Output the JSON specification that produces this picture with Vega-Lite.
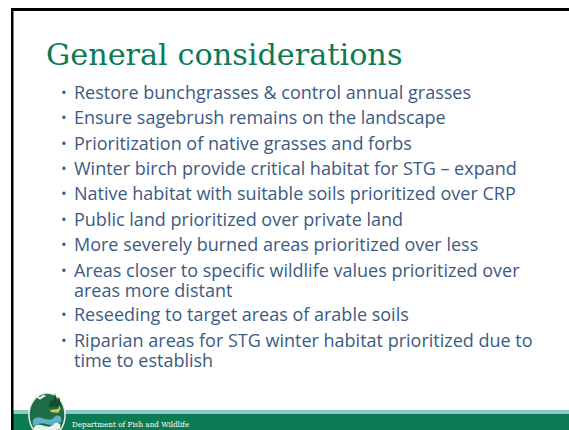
{
  "$schema": "https://vega.github.io/schema/vega-lite/v6.json",
  "width": 569,
  "height": 430,
  "padding": 0,
  "autosize": {"type": "none"},
  "background": "white",
  "config": {"view": {"stroke": null}},
  "datasets": {
    "slide": [
      {"kind": "title", "line": 0, "text": "General considerations", "bullet": false},
      {"kind": "body", "line": 1, "text": "Restore bunchgrasses & control annual grasses", "bullet": true},
      {"kind": "body", "line": 2, "text": "Ensure sagebrush remains on the landscape", "bullet": true},
      {"kind": "body", "line": 3, "text": "Prioritization of native grasses and forbs", "bullet": true},
      {"kind": "body", "line": 4, "text": "Winter birch provide critical habitat for STG – expand", "bullet": true},
      {"kind": "body", "line": 5, "text": "Native habitat with suitable soils prioritized over CRP", "bullet": true},
      {"kind": "body", "line": 6, "text": "Public land prioritized over private land", "bullet": true},
      {"kind": "body", "line": 7, "text": "More severely burned areas prioritized over less", "bullet": true},
      {"kind": "body", "line": 8, "text": "Areas closer to specific wildlife values prioritized over", "bullet": true},
      {"kind": "body", "line": 9, "text": "areas more distant", "bullet": false},
      {"kind": "body", "line": 10, "text": "Reseeding to target areas of arable soils", "bullet": true},
      {"kind": "body", "line": 11, "text": "Riparian areas for STG winter habitat prioritized due to", "bullet": true},
      {"kind": "body", "line": 12, "text": "time to establish", "bullet": false},
      {"kind": "footer", "line": 13, "text": "Department of Fish and Wildlife", "bullet": false}
    ]
  },
  "resolve": {"scale": {"y": "independent"}},
  "layer": [
    {
      "data": {"values": [{}]},
      "layer": [
        {
          "mark": {"type": "rect", "color": "#8ec9c8"},
          "encoding": {
            "x": {"datum": 13, "type": "quantitative", "scale": {"domain": [0, 569], "nice": false, "zero": false}, "axis": null},
            "x2": {"datum": 569},
            "y": {"datum": 410, "type": "quantitative", "scale": {"domain": [0, 430], "range": [0, 430], "nice": false, "zero": false}, "axis": null},
            "y2": {"datum": 414}
          }
        },
        {
          "mark": {"type": "rect", "color": "#0b7b54"},
          "encoding": {
            "x": {"datum": 13, "type": "quantitative"},
            "x2": {"datum": 569},
            "y": {"datum": 414, "type": "quantitative"},
            "y2": {"datum": 430}
          }
        },
        {
          "mark": {"type": "rect", "color": "#000000"},
          "encoding": {
            "x": {"datum": 11, "type": "quantitative"},
            "x2": {"datum": 569},
            "y": {"datum": 8, "type": "quantitative"},
            "y2": {"datum": 11}
          }
        },
        {
          "mark": {"type": "rect", "color": "#000000"},
          "encoding": {
            "x": {"datum": 11, "type": "quantitative"},
            "x2": {"datum": 13.5},
            "y": {"datum": 8, "type": "quantitative"},
            "y2": {"datum": 430}
          }
        },
        {
          "mark": {"type": "point", "shape": "M0,-1 A0.82,1 0 1,1 0,1 A0.82,1 0 1,1 0,-1 Z", "filled": true, "color": "#1d6e47", "stroke": "#e8efe6", "strokeWidth": 1.5, "opacity": 1, "size": 1936},
          "encoding": {
            "x": {"datum": 47, "type": "quantitative"},
            "y": {"datum": 415, "type": "quantitative"}
          }
        },
        {
          "mark": {"type": "point", "shape": "M-1,0 C-0.5,-0.5 0,0.3 0.5,-0.2 C0.7,-0.4 0.9,-0.3 1,-0.2 L1,0.2 C0.6,0.1 0.5,0.5 0,0.3 C-0.5,0.1 -0.7,0.4 -1,0.4 Z", "filled": true, "color": "#5fb0c9", "opacity": 1, "size": 800},
          "encoding": {
            "x": {"datum": 47, "type": "quantitative"},
            "y": {"datum": 420, "type": "quantitative"}
          }
        },
        {
          "mark": {"type": "point", "shape": "M-1,0 C-0.5,-0.5 0,0.3 0.5,-0.2 C0.7,-0.4 0.9,-0.3 1,-0.2 L1,0.2 C0.6,0.1 0.5,0.5 0,0.3 C-0.5,0.1 -0.7,0.4 -1,0.4 Z", "filled": true, "color": "#e9f2ec", "opacity": 1, "size": 700},
          "encoding": {
            "x": {"datum": 47, "type": "quantitative"},
            "y": {"datum": 427, "type": "quantitative"}
          }
        },
        {
          "mark": {"type": "point", "shape": "M-1,-0.2 C-0.6,-0.6 -0.2,-0.4 0,-0.1 C0.3,-0.5 0.7,-0.6 1,-0.3 C0.6,-0.2 0.3,0 0,0.3 C-0.3,0 -0.6,-0.1 -1,-0.2 Z", "filled": true, "color": "#f3f5f0", "opacity": 1, "size": 150},
          "encoding": {
            "x": {"datum": 40, "type": "quantitative"},
            "y": {"datum": 398, "type": "quantitative"}
          }
        },
        {
          "mark": {"type": "point", "shape": "M-1,1 L-0.6,-0.2 L-0.3,0.3 L0,-1 L0.3,0.2 L0.6,-0.5 L1,1 Z", "filled": true, "color": "#0f4f2e", "opacity": 1, "size": 180},
          "encoding": {
            "x": {"datum": 55, "type": "quantitative"},
            "y": {"datum": 400, "type": "quantitative"}
          }
        },
        {
          "mark": {"type": "point", "shape": "M-1,0 L0.6,-0.2 L0.8,-0.9 L1,-0.2 L0.6,0.5 L-0.6,0.4 Z", "filled": true, "color": "#d9c843", "opacity": 1, "size": 120},
          "encoding": {
            "x": {"datum": 55, "type": "quantitative"},
            "y": {"datum": 410, "type": "quantitative"}
          }
        }
      ]
    },
    {
      "data": {"name": "slide"},
      "layer": [
        {
          "transform": [{"filter": "datum.kind === 'title'"}],
          "mark": {"type": "text", "align": "left", "baseline": "alphabetic", "font": "DejaVu Serif", "fontSize": 30.3, "color": "#0b7b54"},
          "encoding": {
            "x": {"datum": 46, "type": "quantitative"},
            "y": {"field": "line", "type": "quantitative", "scale": {"domain": [0, 1, 8, 9, 10, 11, 12, 13], "range": [64.5, 99, 276.5, 296.5, 320.5, 346.5, 366.5, 427]}, "axis": null},
            "text": {"field": "text"}
          }
        },
        {
          "transform": [{"filter": "datum.kind === 'body'"}],
          "mark": {"type": "text", "align": "left", "baseline": "alphabetic", "font": "Open Sans", "fontSize": 18, "color": "#3b5b82"},
          "encoding": {
            "x": {"datum": 74, "type": "quantitative"},
            "y": {"field": "line", "type": "quantitative"},
            "text": {"field": "text"}
          }
        },
        {
          "transform": [{"filter": "datum.bullet"}],
          "mark": {"type": "text", "align": "left", "baseline": "alphabetic", "font": "Open Sans", "fontSize": 15, "color": "#3b5b82", "text": "•", "dy": -1},
          "encoding": {
            "x": {"datum": 61, "type": "quantitative"},
            "y": {"field": "line", "type": "quantitative"}
          }
        },
        {
          "transform": [{"filter": "datum.kind === 'footer'"}],
          "mark": {"type": "text", "align": "left", "baseline": "alphabetic", "font": "DejaVu Serif Condensed", "fontSize": 8, "color": "#ffffff"},
          "encoding": {
            "x": {"datum": 72, "type": "quantitative"},
            "y": {"field": "line", "type": "quantitative"},
            "text": {"field": "text"}
          }
        }
      ]
    }
  ]
}
